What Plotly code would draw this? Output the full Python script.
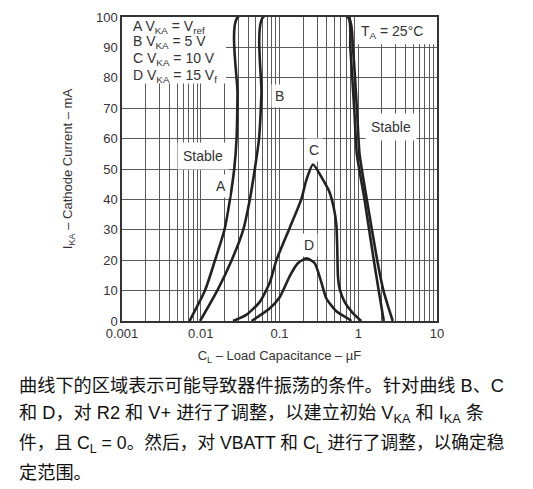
import math
import plotly.graph_objects as go

# curve data (C_L in uF, I_KA in mA)
a_cl = [0.0072, 0.0113, 0.0152, 0.020, 0.0235, 0.0266, 0.0285, 0.0293, 0.0295,
        0.75, 0.855, 0.97, 1.038, 1.285, 1.74, 2.09, 2.38, 2.74]
a_ika = [0, 10, 20, 30, 40, 50, 60, 75, 100,
         100, 90, 68, 55, 40, 20, 10, 5, 0]

b_cl = [0.0098, 0.0162, 0.0247, 0.0346, 0.042, 0.0486, 0.055, 0.059, 0.062,
        0.738, 0.793, 0.897, 0.959, 1.20, 1.575, 1.82, 2.11]
b_ika = [0, 10, 20, 30, 40, 50, 60, 75, 100,
         100, 90, 68, 55, 40, 20, 10, 0]

c_cl = [0.0257, 0.0382, 0.0563, 0.0754, 0.0916, 0.135, 0.19, 0.22, 0.266,
        0.356, 0.433, 0.491, 0.527, 0.542, 0.552, 0.58, 0.671, 0.855, 1.09]
c_ika = [0, 2.1, 6.3, 12.7, 20.1, 30.7, 40.2, 46.5, 51.5,
         46.5, 42.3, 37, 31.7, 23.3, 14.8, 10.6, 6.3, 2.6, 0]

d_cl = [0.0442, 0.0754, 0.101, 0.135, 0.171, 0.22, 0.28, 0.34, 0.394, 0.527, 0.776, 0.815]
d_ika = [0, 4.2, 7.9, 14.8, 19, 20.6, 19, 12.7, 7.4, 3.2, 0.5, 0]

x_ticks = [0.001, 0.01, 0.1, 1, 10]
x_tick_text = ["0.001", "0.01", "0.1", "1", "10"]

# label positions (data coords)
curve_labels = ["A", "B", "C", "D"]
label_cl = [0.018, 0.101, 0.274, 0.235]
label_ika = [44.4, 74, 56.3, 25.1]

stable_cl = [0.0107, 2.62]
stable_ika = [54.4, 63.7]

legend_lines = [
    "A V<sub>KA</sub> = V<sub>ref</sub>",
    "B V<sub>KA</sub> = 5 V",
    "C V<sub>KA</sub> = 10 V",
    "D V<sub>KA</sub> = 15 V<sub>f</sub>",
]

note_lines = [
    "曲线下的区域表示可能导致器件振荡的条件。针对曲线 B、C",
    "和 D，对 R2 和 V+ 进行了调整，以建立初始 V<sub>KA</sub> 和 I<sub>KA</sub> 条",
    "件，且 C<sub>L</sub> = 0。然后，对 VBATT 和 C<sub>L</sub> 进行了调整，以确定稳",
    "定范围。",
]
note_sizes = [18.2, 18.2, 17.7, 18.2]

W, H = 533, 489
L, R, T, B = 122, 96, 10, 168
PW, PH = W - L - R, H - T - B


def px_x(px):
    return (px - L) / PW


def px_y(py):
    return (H - B - py) / PH


FONT = "Liberation Sans, Arial, Noto Sans CJK SC"
LINE = "#222222"
GRID = "#5a5a5a"
TXT = "#333333"

fig = go.Figure()
for xs, ys in [(a_cl, a_ika), (b_cl, b_ika), (c_cl, c_ika), (d_cl, d_ika)]:
    fig.add_trace(go.Scatter(x=xs, y=ys, mode="lines",
                             line=dict(color=LINE, width=2.6, shape="spline", smoothing=0.6),
                             hoverinfo="skip", showlegend=False))

fig.update_xaxes(type="log", range=[-3, 1], tickvals=x_ticks, ticktext=x_tick_text,
                 showgrid=True, gridcolor=GRID, gridwidth=1.2,
                 minor=dict(dtick="D1", showgrid=True, gridcolor=GRID, gridwidth=1.2, ticks=""),
                 showline=True, linecolor="#333", linewidth=1.5, mirror=True,
                 ticks="", zeroline=False,
                 tickfont=dict(family=FONT, size=13, color=TXT),
                 title=dict(text="C<sub>L</sub> – Load Capacitance – µF",
                            font=dict(family=FONT, size=13, color=TXT), standoff=11))
fig.update_yaxes(range=[0, 100], dtick=10,
                 showgrid=True, gridcolor=GRID, gridwidth=1.2,
                 showline=True, linecolor="#333", linewidth=1.5, mirror=True,
                 ticks="", zeroline=False,
                 tickfont=dict(family=FONT, size=13, color=TXT),
                 title=dict(text="I<sub>KA</sub> – Cathode Current – mA",
                            font=dict(family=FONT, size=13, color=TXT), standoff=20))

# legend box
fig.add_shape(type="rect", xref="paper", yref="paper",
              x0=0, x1=px_x(226), y0=px_y(78), y1=1,
              fillcolor="white", line=dict(width=0), layer="above")
for t, py in zip(legend_lines, [20, 36, 53, 70]):
    fig.add_annotation(xref="paper", yref="paper", x=px_x(131), y=px_y(py),
                       xanchor="left", yanchor="middle", align="left", showarrow=False,
                       text=t, font=dict(family=FONT, size=14, color=TXT))

# temperature box
fig.add_shape(type="rect", xref="paper", yref="paper",
              x0=px_x(356), x1=1, y0=px_y(38), y1=1,
              fillcolor="white", line=dict(width=0), layer="above")
fig.add_annotation(xref="paper", yref="paper", x=px_x(392), y=px_y(25),
                   xanchor="center", yanchor="middle", showarrow=False,
                   text="T<sub>A</sub> = 25°C",
                   font=dict(family=FONT, size=14, color=TXT))

for x, y in zip(stable_cl, stable_ika):
    fig.add_annotation(x=math.log10(x), y=y, xref="x", yref="y", showarrow=False, text="Stable",
                       bgcolor="white", borderpad=5,
                       font=dict(family=FONT, size=14, color=TXT))

for t, x, y in zip(curve_labels, label_cl, label_ika):
    fig.add_annotation(x=math.log10(x), y=y, xref="x", yref="y", showarrow=False, text=t,
                       bgcolor="white", borderpad=3,
                       font=dict(family=FONT, size=14, color=TXT))

line_y = [387, 417, 447, 476]
for t, py, fs in zip(note_lines, line_y, note_sizes):
    fig.add_annotation(xref="paper", yref="paper", x=px_x(17), y=px_y(py),
                       xanchor="left", yanchor="middle", align="left", showarrow=False,
                       text=t, font=dict(family="Liberation Sans, Noto Sans CJK SC", size=fs, color="#111"))

fig.update_layout(width=W, height=H, margin=dict(l=L, r=R, t=T, b=B),
                  plot_bgcolor="white", paper_bgcolor="white")

# drop the browser's default 8px body margin so the figure sits at the page corner
fig.write_html("out.html", config={"displayModeBar": False},
               post_script="document.body.style.margin='0px';")
